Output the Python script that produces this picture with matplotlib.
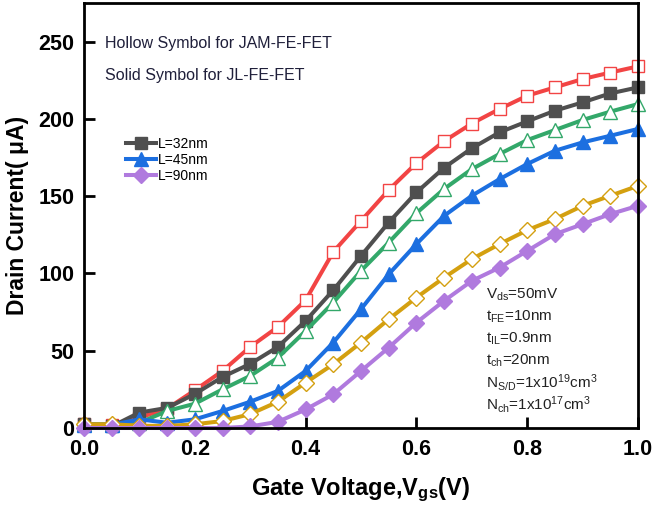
import matplotlib
matplotlib.use("Agg")
import matplotlib.pyplot as plt

plt.rcParams['font.family'] = ['Liberation Sans', 'DejaVu Sans']
plt.rcParams['mathtext.fontset'] = 'custom'
plt.rcParams['mathtext.rm'] = 'Liberation Sans'
plt.rcParams['mathtext.it'] = 'Liberation Sans'
plt.rcParams['mathtext.bf'] = 'Liberation Sans:bold'

vgs = [0.0, 0.05, 0.1, 0.15, 0.2, 0.25, 0.3, 0.35, 0.4, 0.45, 0.5,
       0.55, 0.6, 0.65, 0.7, 0.75, 0.8, 0.85, 0.9, 0.95, 1.0]

jam_32 = [2.6, 2.0, 6.7, 12.5, 24.4, 36.9, 52.5, 65.4, 82.7, 114, 134,
          154, 171.4, 185.6, 197, 206.4, 215, 220.4, 225.8, 230, 234]
jl_32 = [2.5, 1.0, 10, 13, 22, 33, 41.5, 52.5, 69.3, 89.2, 111.4,
         133, 152.4, 168.4, 181, 191.3, 198.4, 205.3, 210.7, 216.5, 220.4]
jam_45 = [2.4, 2.4, 3.4, 11, 15.7, 25, 33.7, 45.5, 62.8, 81.2, 101.7,
          120, 139, 154.7, 167.5, 177.3, 186.3, 192.8, 199.3, 204.7, 209.6]
jl_45 = [2.0, 2.0, 5.6, 3.4, 5.6, 11, 17, 24, 36.9, 55.3, 76.9,
         99.5, 119, 137.3, 150.3, 161, 170.8, 179.4, 184.8, 189.1, 193.5]
jam_90 = [2.4, 2.4, 1.5, 1.3, 2.4, 4.5, 9, 17, 29.3, 41.3, 55.3,
          70.4, 84.4, 97.3, 109.3, 119, 128, 135.2, 143.8, 150.3, 156.7]
jl_90 = [0, 0, 0, 0, 0, 0, 1.0, 4.0, 12.0, 21.8, 36.9,
         52, 68.2, 82.3, 95.2, 103.8, 114.6, 125.4, 131.9, 138.4, 143.8]

legend_labels = ['L=32nm', 'L=45nm', 'L=90nm']
x_ticks = [0.0, 0.2, 0.4, 0.6, 0.8, 1.0]
y_ticks = [0, 50, 100, 150, 200, 250]

fig = plt.figure(figsize=(6.53, 5.08), dpi=100)
ax = fig.add_axes([84/653, 1-428/508, (638-84)/653, (428-3)/508])

c_red = '#F24444'
c_gray = '#4F4F4F'
c_green = '#33A86A'
c_blue = '#1C6FE0'
c_gold = '#D4A010'
c_violet = '#B07ADE'

lw = 2.9
ax.plot(vgs, jam_32, color=c_red, lw=lw, marker='s', ms=9, mfc='white', mec=c_red, mew=1.0, clip_on=False, zorder=3)
ax.plot(vgs, jl_32, color=c_gray, lw=lw, marker='s', ms=9, mfc=c_gray, mec=c_gray, label=legend_labels[0], clip_on=False, zorder=3)
ax.plot(vgs, jam_45, color=c_green, lw=lw, marker='^', ms=10.5, mfc='white', mec=c_green, mew=1.0, clip_on=False, zorder=3)
ax.plot(vgs, jl_45, color=c_blue, lw=lw, marker='^', ms=10.5, mfc=c_blue, mec=c_blue, label=legend_labels[1], clip_on=False, zorder=3)
ax.plot(vgs, jam_90, color=c_gold, lw=lw, marker='D', ms=8, mfc='white', mec=c_gold, mew=1.0, clip_on=False, zorder=3)
ax.plot(vgs, jl_90, color=c_violet, lw=lw, marker='D', ms=8, mfc=c_violet, mec=c_violet, label=legend_labels[2], clip_on=False, zorder=3)

ax.set_xlim(0, 1.0)
ax.set_ylim(0, 275)
ax.set_xticks(x_ticks)
ax.set_xticklabels([f'{v:.1f}' for v in x_ticks])
ax.set_yticks(y_ticks)
ax.tick_params(direction='in', length=8, width=2, labelsize=15.5)
ax.tick_params(axis='x', pad=8)
ax.tick_params(axis='y', pad=7)
for lab in ax.get_xticklabels() + ax.get_yticklabels():
    lab.set_fontweight('bold')
for s in ax.spines.values():
    s.set_linewidth(2)
    s.set_zorder(5)

ax.set_xlabel(r'Gate Voltage,V$_{\mathbf{gs}}$(V)', fontsize=17, fontweight='bold', labelpad=11)
ax.set_ylabel('Drain Current( μA)', fontsize=16.5, fontweight='bold', labelpad=7)

tc = '#1f1f3a'
ax.text(0.038, 0.905, 'Hollow Symbol for JAM-FE-FET', transform=ax.transAxes, fontsize=11.5, color=tc, va='center')
ax.text(0.038, 0.83, 'Solid Symbol for JL-FE-FET', transform=ax.transAxes, fontsize=11.5, color=tc, va='center')

leg = ax.legend(loc='upper left', bbox_to_anchor=(0.075, 0.685), frameon=False, fontsize=10,
                handlelength=2.2, handletextpad=0.1, labelspacing=0.15, borderpad=0, borderaxespad=0)

params = [r'V$_{ds}$=50mV', r't$_{FE}$=10nm', r't$_{IL}$=0.9nm', r't$_{ch}$=20nm',
          r'N$_{S/D}$=1x10$^{19}$cm$^{3}$', r'N$_{ch}$=1x10$^{17}$cm$^{3}$']
y0 = 295
for i, p in enumerate(params):
    yy = y0 + i * 22
    ax.text((486-84)/554, (428-yy)/425, p, transform=ax.transAxes, fontsize=11, color='#222222', va='center')

fig.savefig('out.png', dpi=100)
